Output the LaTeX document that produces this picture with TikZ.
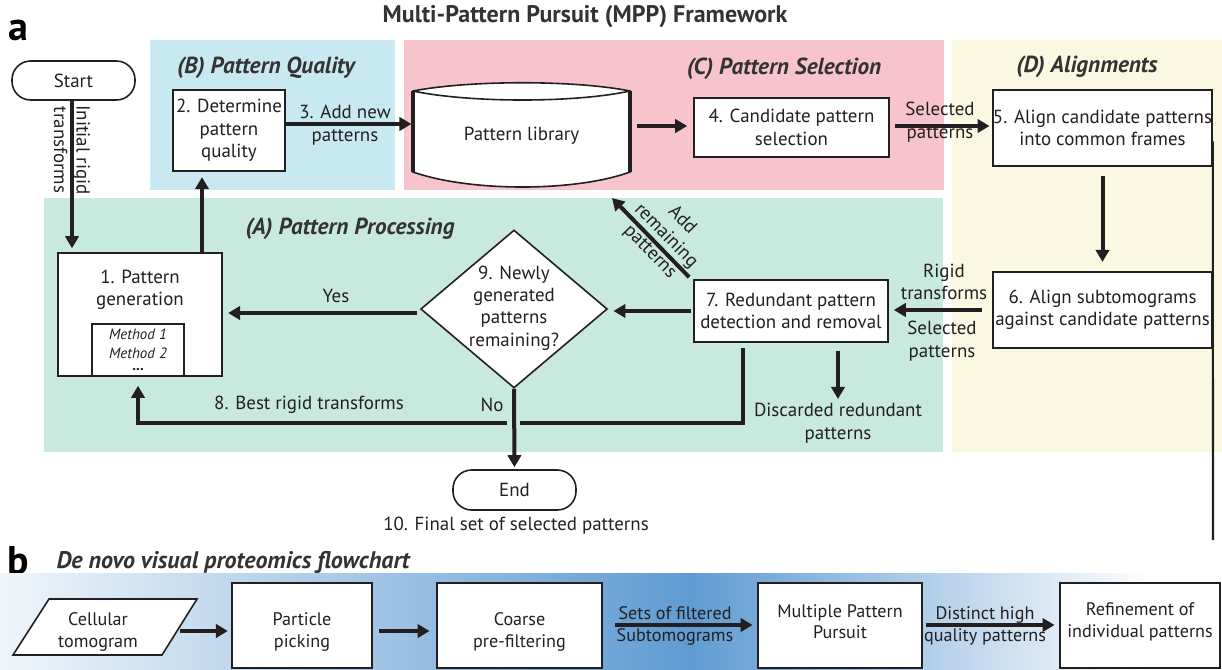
\documentclass[tikz,border=0pt]{standalone}
\usepackage{fontspec}
\setmainfont{PT Sans}
\usetikzlibrary{arrows.meta,shapes.geometric,calc}
\definecolor{colA}{RGB}{200,233,221}
\definecolor{colB}{RGB}{201,233,242}
\definecolor{colC}{RGB}{247,196,205}
\definecolor{colD}{RGB}{250,248,224}
\definecolor{bandblue}{RGB}{95,155,210}
\definecolor{bandlight}{RGB}{240,246,251}
\definecolor{ink}{RGB}{35,31,32}
\begin{document}
\begin{tikzpicture}[x=0.75pt,y=-0.75pt,
  every node/.style={font=\fontsize{14.2}{16.8}\selectfont, text=ink},
  box/.style={draw=ink, line width=1.2pt, fill=white, inner sep=0pt, align=center},
  term/.style={draw=ink, line width=1.2pt, fill=white, inner sep=0pt, rounded corners=14pt},
  arr/.style={draw=ink, line width=3pt, -{Triangle[length=9pt,width=10pt]}},
  lbl/.style={align=center, inner sep=0pt},
  bl/.style={align=center, inner sep=0pt, font=\fontsize{13.6}{16}\selectfont},
  sect/.style={font=\fontsize{17.4}{20}\selectfont\bfseries\itshape, text=black!80},
  big/.style={font=\fontsize{30}{32}\selectfont\bfseries, text=black},
]
\useasboundingbox (0,0) rectangle (1222,669);

% ---------- regions ----------
\fill[colB] (150,40) rectangle (395,190);
\fill[colC] (404,40) rectangle (944,190);
\fill[colD] (952,40) rectangle (1222,452);
\fill[colA] (44,198) rectangle (943,452);

% ---------- titles ----------
\node[font=\fontsize{18}{20}\selectfont\bfseries, text=black!80] (title) at (585,17) {Multi-Pattern Pursuit (MPP) Framework};
\node[big] (la) at (18,30) {a};
\node[sect] (tB) at (266,68) {(B) Pattern Quality};
\node[sect] (tC) at (784,69) {(C) Pattern Selection};
\node[sect] (tD) at (1087,67) {(D) Alignments};
\node[sect] (tA) at (350,229) {(A) Pattern Processing};

% ---------- nodes ----------
\node[term, minimum width=92.25pt, minimum height=29.25pt] (start) at (73.5,80.5) {Start};
\node[box, minimum width=123pt, minimum height=92.25pt] (b1) at (140,314.5) {};
\node[lbl] (b1t) at (140,290) {1. Pattern\\generation};
\node[box, minimum width=69pt, minimum height=39pt, font=\fontsize{11.2}{14}\selectfont\itshape] (meth) at (138,350) {Method 1\\Method 2\\[-5pt]{\upshape\bfseries ...}};
\node[box, minimum width=84pt, minimum height=60.75pt] (b2) at (229,130.5) {2. Determine\\pattern\\quality};

% cylinder
\draw[draw=ink, line width=1.2pt, fill=white] (413,91) .. controls (470,80) and (575,80) .. (630,91) -- (630,172) .. controls (575,192) and (470,192) .. (413,172) -- cycle;
\draw[draw=ink, line width=1.2pt] (413,91) .. controls (470,103) and (575,103) .. (630,91);
\draw[draw=ink, line width=2.4pt] (413,91) -- (413,172) (630,91) -- (630,172);
\node[inner sep=0pt, minimum width=162.75pt, minimum height=78pt] (lib) at (521.5,136) {Pattern library};

\node[box, minimum width=146.25pt, minimum height=44.25pt] (b4) at (791.5,127.5) {4. Candidate pattern\\selection};
\node[box, minimum width=164.25pt, minimum height=57pt] (b5) at (1102.5,128) {5. Align candidate patterns\\into common frames};
\node[box, minimum width=164.25pt, minimum height=57pt] (b6) at (1102.5,310) {6. Align subtomograms\\against candidate patterns};
\node[box, minimum width=145.5pt, minimum height=46.5pt] (b7) at (791,311) {7. Redundant pattern\\detection and removal};
\node[diamond, draw=ink, line width=1.2pt, fill=white, inner sep=0pt, minimum width=140pt, minimum height=118.5pt] (d9) at (514,309) {};
\node[lbl] (d9t) at (514,308) {9. Newly\\generated\\patterns\\remaining?};
\node[term, minimum width=92.25pt, minimum height=30pt] (endn) at (514.5,490) {End};
\node[lbl] (final) at (516,526) {10. Final set of selected patterns};

% ---------- helper coordinates ----------
\coordinate (x72) at (72,0);
\coordinate (x202) at (202,0);
\coordinate (y124) at (0,124);
\coordinate (y126) at (0,126);
\coordinate (y313) at (0,313);
\coordinate (x743) at (743,0);
\coordinate (x138) at (138,0);
\coordinate (gapR) at (520,423);
\coordinate (gapL) at (507,423);
\coordinate (addend) at (612,198);
\coordinate (vend) at (1213,540);

% ---------- connectors ----------
\draw[arr, shorten >=3pt] (start.south -| x72) -- (b1.north -| x72);
\node[lbl, rotate=-90] (initlbl) at (72,150) {Initial rigid\\transforms};

\draw[arr, shorten >=4pt] (b1.north -| x202) -- (b2.south -| x202);

\draw[arr, shorten >=1pt] (b2.east |- y124) -- (lib.west |- y124);
\node[lbl] (l3) at (345,125) {3. Add new\\patterns};

\draw[arr, shorten <=5pt, shorten >=4.5pt] (lib.east |- y126) -- (b4.west |- y126);

\draw[arr, shorten <=4pt, shorten >=2pt] (b4.east |- y126) -- (b5.west |- y126);
\node[lbl] (lsel) at (940,122) {Selected\\patterns};

\draw[arr, shorten <=7pt, shorten >=7pt] (b5.south) -- (b6.north);

\draw[line width=1.6pt, draw=ink] ([yshift=-10pt]b5.east) -- (vend);

\draw[arr, shorten <=7.5pt, shorten >=3.75pt] (b6.west) -- (b6.west -| b7.east);
\node[lbl] (lrig) at (944,282) {Rigid\\transforms};
\node[lbl] (lsel2) at (942,341) {Selected\\patterns};

\draw[arr, shorten <=1.5pt, shorten >=4pt] (b7.west) -- (b7.west -| d9.east);

\draw[arr] ([shift={(-3pt,1.5pt)}]b7.north west) -- (addend);
\node[lbl, rotate=-45.7] (laddr) at (666,236) {Add\\remaining\\patterns};

\draw[arr, shorten <=2pt, shorten >=4pt] (d9.west |- y313) -- (b1.east |- y313);
\node[lbl] (lyes) at (336,296) {Yes};

\draw[arr, shorten >=1.5pt] (d9.south) -- (endn.north);
\node[lbl] (lno) at (492,405) {No};

\draw[draw=ink, line width=3pt] ([yshift=-4pt]b7.south -| x743) |- (gapR);
\draw[arr, shorten >=6.75pt] (gapL) -| (b1.south -| x138);
\node[lbl] (l8) at (309,405) {8. Best rigid transforms};

\node[lbl] (disc) at (838,423) {Discarded redundant\\patterns};
\draw[arr, shorten <=6pt, shorten >=3pt] (b7.south -| disc) -- (disc.north);

% ---------- part b ----------
\node[big] (lb) at (18,561) {b};
\shade[left color=bandlight, right color=bandblue] (0,573) rectangle (690,669);
\shade[left color=bandblue, right color=white] (690,573) rectangle (1150,669);
\node[font=\fontsize{18}{20}\selectfont\bfseries\itshape, text=black!80] (tb) at (233,562) {De novo visual proteomics flowchart};

\draw[draw=ink, line width=1.2pt, fill=white] (13,655) -- (49,599) -- (197,599) -- (162,655) -- cycle;
\node[bl] (cell) at (98,632) {Cellular\\tomogram};
\coordinate (cellE) at (180,631);
\node[box, minimum width=105pt, minimum height=63.75pt] (pp) at (302,625.5) {};
\node[bl] (ppt) at (302,632) {Particle\\picking};
\node[box, minimum width=123.75pt, minimum height=63.75pt] (cp) at (519.5,625.5) {};
\node[bl] (cpt) at (519.5,632) {Coarse\\pre-filtering};
\node[box, minimum width=123pt, minimum height=63.75pt] (mpp) at (840,625.5) {};
\node[bl] (mppt) at (840,622) {Multiple Pattern\\Pursuit};
\node[box, minimum width=120pt, minimum height=63.75pt] (rf) at (1140,625.5) {};
\node[bl] (rft) at (1140,622) {Refinement of\\individual patterns};

\coordinate (y625) at (0,625);
\draw[arr, shorten >=2.5pt] (cellE) -- (pp.west |- cellE);
\draw[arr, shorten <=4.5pt, shorten >=5pt] (pp.east |- cellE) -- (cp.west |- cellE);
\draw[arr, shorten <=9.5pt, shorten >=3.5pt] (cp.east |- y625) -- (mpp.west |- y625);
\node[bl] (lsets) at (675,626) {Sets of filtered\\Subtomograms};
\draw[arr, shorten <=2.5pt, shorten >=3.5pt] (mpp.east |- y625) -- (rf.west |- y625);
\node[bl] (ldist) at (985,626) {Distinct high\\quality patterns};
\end{tikzpicture}
\end{document}
